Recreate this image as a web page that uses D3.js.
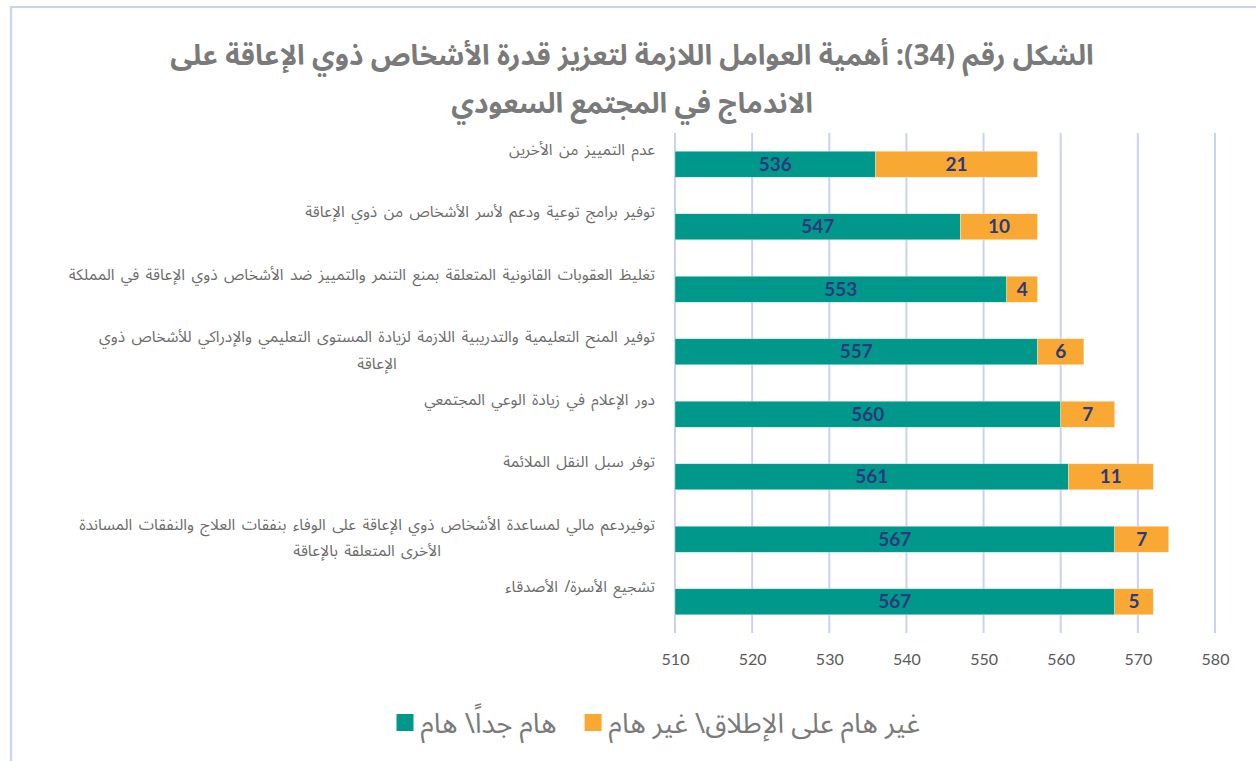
<!DOCTYPE html>
<html lang="ar">
<head>
<meta charset="utf-8">
<script src="https://cdn.jsdelivr.net/npm/d3@7/dist/d3.min.js"></script>
<style>
  html, body { margin: 0; padding: 0; background: #fff; }
  svg { display: block; }
  .ar { font-family: "Noto Sans", "Noto Sans Arabic", "DejaVu Sans", sans-serif; }
  .num { font-family: Lato, "Open Sans", "Liberation Sans", sans-serif; }
</style>
</head>
<body>
<svg id="chart" width="1256" height="761"></svg>
<script>
// Factors listed top to bottom; "\n" marks a line break inside a label
const categories = [
  "عدم التمييز من الأخرين",
  "توفير برامج توعية ودعم لأسر الأشخاص من ذوي الإعاقة",
  "تغليظ العقوبات القانونية المتعلقة بمنع التنمر والتمييز ضد الأشخاص ذوي الإعاقة في المملكة",
  "توفير المنح التعليمية والتدريبية اللازمة لزيادة المستوى التعليمي والإدراكي للأشخاص ذوي\nالإعاقة",
  "دور الإعلام في زيادة الوعي المجتمعي",
  "توفر سبل النقل الملائمة",
  "توفيردعم مالي لمساعدة الأشخاص ذوي الإعاقة على الوفاء بنفقات العلاج والنفقات المساندة\nالأخرى المتعلقة بالإعاقة",
  "تشجيع الأسرة/ الأصدقاء"
];
// "هام جداً\ هام"
const importantValues = [536, 547, 553, 557, 560, 561, 567, 567];
// "غير هام على الإطلاق\ غير هام"
const notImportantValues = [21, 10, 4, 6, 7, 11, 7, 5];

const seriesNames = ["هام جداً\\ هام", "غير هام على الإطلاق\\ غير هام"];
const seriesColors = ["#00988a", "#f9a933"];
const xTicks = [510, 520, 530, 540, 550, 560, 570, 580];
const xDomain = [510, 580];
const titleLines = [
  "الشكل رقم (34): أهمية العوامل اللازمة لتعزيز قدرة الأشخاص ذوي الإعاقة على",
  "الاندماج في المجتمع السعودي"
];

const svg = d3.select("#chart");

// outer frame (top and left edges)
svg.append("path")
  .attr("d", "M11,1000 L11,7 L1256,7")
  .attr("fill", "none")
  .attr("stroke", "#cbd3f1")
  .attr("stroke-width", 2.2);

// title, one text element per line
svg.append("g").selectAll("text")
  .data(titleLines)
  .join("text")
  .attr("class", "ar")
  .attr("direction", "rtl")
  .attr("text-anchor", "middle")
  .attr("x", 632)
  .attr("y", (d, i) => 55 + i * 48)
  .attr("dy", "0.35em")
  .attr("fill", "#7a7a7a")
  .attr("font-weight", "bold")
  .attr("font-size", 28)
  .text(d => d);

const plot = { left: 675, right: 1215, top: 133, bottom: 633 };

const x = d3.scaleLinear().domain(xDomain).range([plot.left, plot.right]);
const y = d3.scaleBand().domain(categories)
  .range([plot.top, plot.bottom])
  .paddingInner(0.584).paddingOuter(0.292);

// vertical grid lines
svg.append("g").selectAll("line")
  .data(xTicks)
  .join("line")
  .attr("x1", d => x(d)).attr("x2", d => x(d))
  .attr("y1", plot.top).attr("y2", plot.bottom)
  .attr("stroke", "#cbd2f0")
  .attr("stroke-width", 2);

// x axis labels
const xAxis = d3.axisBottom(x).tickValues(xTicks).tickSize(0).tickPadding(0);
const axisG = svg.append("g")
  .attr("transform", `translate(0,${plot.bottom + 21})`)
  .call(xAxis);
axisG.select(".domain").remove();
axisG.selectAll("text")
  .attr("class", "num")
  .attr("font-size", 16)
  .attr("fill", "#595959");

// stacked bars
const rows = categories.map((c, i) => ({
  cat: c,
  segs: [
    { s: 0, x0: xDomain[0], x1: importantValues[i], v: importantValues[i] },
    { s: 1, x0: importantValues[i], x1: importantValues[i] + notImportantValues[i], v: notImportantValues[i] }
  ]
}));

const rowG = svg.append("g").selectAll("g")
  .data(rows)
  .join("g")
  .attr("transform", d => `translate(0,${y(d.cat)})`);

rowG.selectAll("rect")
  .data(d => d.segs)
  .join("rect")
  .attr("x", d => x(d.x0))
  .attr("width", d => x(d.x1) - x(d.x0))
  .attr("y", 0)
  .attr("height", y.bandwidth())
  .attr("fill", d => seriesColors[d.s])
  .attr("stroke", "#ffffff")
  .attr("stroke-opacity", 0.5)
  .attr("stroke-width", 0.6);

rowG.selectAll("text")
  .data(d => d.segs)
  .join("text")
  .attr("class", "num")
  .attr("x", d => (x(d.x0) + x(d.x1)) / 2)
  .attr("y", y.bandwidth() / 2)
  .attr("dy", "0.35em")
  .attr("text-anchor", "middle")
  .attr("font-size", 19)
  .attr("font-weight", "bold")
  .attr("fill", "#2c3a7c")
  .text(d => d.v);

// category labels: block right-aligned to the label edge, lines centred within the block
const labelRight = 655;
const labelG = svg.append("g");
categories.forEach(c => {
  const lines = c.split("\n");
  const cy = y(c) + y.bandwidth() / 2;
  const texts = lines.map((ln, i) => labelG.append("text")
    .attr("class", "ar")
    .attr("direction", "rtl")
    .attr("text-anchor", "middle")
    .attr("font-size", 15.5)
    .attr("word-spacing", 2.4)
    .attr("fill", "#6b6b6b")
    .attr("y", cy - 15 + i * 26.5)
    .attr("dy", "0.35em")
    .text(ln));
  const w = d3.max(texts, t => t.node().getComputedTextLength());
  texts.forEach(t => t.attr("x", labelRight - w / 2));
});

// legend, laid out right to left: label then its swatch
const legendY = 723;
const legend = svg.append("g");
const items = [1, 0];
let cursor = 920;
items.forEach(k => {
  const txt = legend.append("text")
    .attr("class", "ar")
    .attr("direction", "rtl")
    .attr("text-anchor", "start")
    .attr("x", cursor)
    .attr("y", legendY)
    .attr("dy", "0.35em")
    .attr("font-size", 27.5)
    .attr("fill", "#7a7a7a")
    .text(seriesNames[k]);
  const tw = txt.node().getComputedTextLength();
  const sqRight = cursor - tw - 7;
  legend.append("rect")
    .attr("x", sqRight - 17)
    .attr("y", legendY - 9)
    .attr("width", 17)
    .attr("height", 17)
    .attr("fill", seriesColors[k]);
  cursor = sqRight - 17 - 28;
});
</script>
</body>
</html>
